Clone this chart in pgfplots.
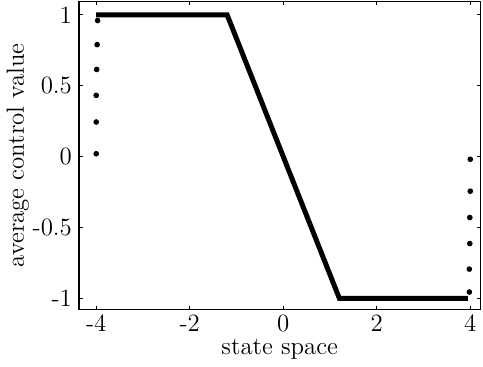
\documentclass[border=0pt]{standalone}
\usepackage{pgfplots}
\pgfplotsset{compat=1.18}
\begin{document}
\begin{tikzpicture}
\begin{axis}[
  scale only axis, width=202pt, height=155pt,
  xmin=-4.37, xmax=4.22, ymin=-1.08, ymax=1.095,
  xtick={-4,-2,0,2,4}, ytick={-1,-0.5,0,0.5,1},
  xticklabels={-4,-2,0,2,4},
  yticklabels={-1,-0.5,0,0.5,1},
  tick align=inside, major tick length=2pt,
  axis line style={line width=0.8pt},
  every tick/.style={line width=0.6pt, black},
  xlabel={state space}, ylabel={average control value},
  xlabel style={yshift=3pt}, ylabel style={yshift=-5pt},
  xticklabel style={yshift=1pt},
  tick label style={font=\fontsize{12.5}{14}\selectfont},
  label style={font=\fontsize{12.5}{14}\selectfont},
]
\addplot[black, line width=2.5pt] coordinates {(-4,1) (-1.2,1) (1.2,-1) (3.95,-1)};
\addplot[only marks, mark=*, mark size=1.2pt, black] coordinates {
(-3.97,0.96) (-3.98,0.79) (-3.99,0.615) (-4,0.432) (-4,0.244) (-4,0.02)
(4,-0.019) (4,-0.244) (3.99,-0.43) (3.99,-0.614) (3.98,-0.794) (3.98,-0.956)};
\end{axis}
\end{tikzpicture}
\end{document}
